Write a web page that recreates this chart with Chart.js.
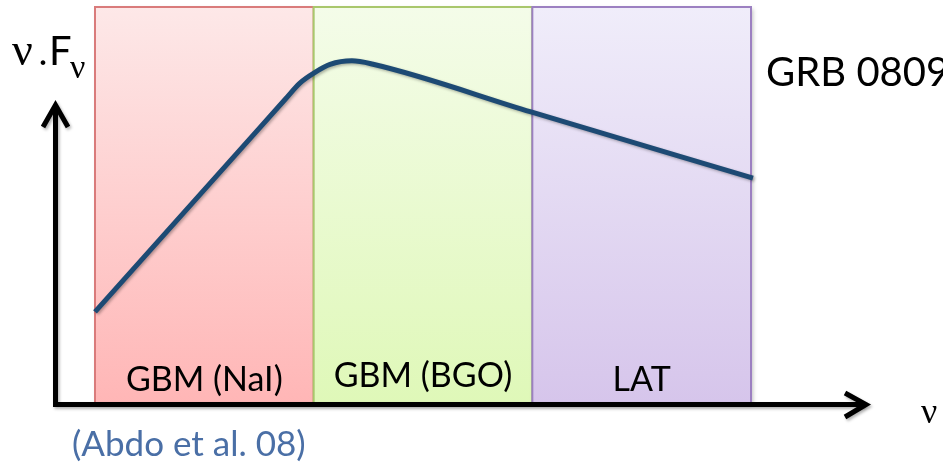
<!DOCTYPE html>
<html>
<head>
<meta charset="utf-8">
<title>GRB 080916C spectrum sketch</title>
<script src="https://cdn.jsdelivr.net/npm/chart.js@4/dist/chart.umd.min.js"></script>
<style>
  html, body { margin: 0; padding: 0; background: #ffffff; }
  #wrap { width: 943px; height: 463px; }
</style>
</head>
<body>
<div id="wrap"><canvas id="spectrum" width="943" height="463"></canvas></div>
<script>
// energy bands of the instruments (x in band units)
const bandNames = ["GBM (NaI)", "GBM (BGO)", "LAT"];
const bandEdges = [0, 1, 2, 3];
const bandTopColors = ["#fde8e8", "#f4fce9", "#f0edfa"];
const bandBottomColors = ["#ffb6b6", "#dff8b8", "#d6c5eb"];
const bandBorders = ["#d97b7b", "#a9c76c", "#9c80c1"];

// schematic nu.F_nu curve (arbitrary units)
const specX = [0, 0.663, 0.87, 0.937, 1.006, 1.075, 1.175, 1.267, 1.994, 3.009];
const specY = [2.30, 6.39, 7.67, 8.08, 8.35, 8.55, 8.64, 8.56, 7.35, 5.68];

const SANS = "Lato, 'Open Sans', sans-serif";
const SERIF = "'Liberation Serif', 'DejaVu Serif', serif";

const bandsPlugin = {
  id: "bands",
  beforeDatasetsDraw(chart) {
    const { ctx, scales: { x, y } } = chart;
    const top = y.getPixelForValue(y.max);
    const bottom = y.getPixelForValue(y.min);
    ctx.save();
    for (let i = 0; i < bandNames.length; i++) {
      const left = x.getPixelForValue(bandEdges[i]);
      const right = x.getPixelForValue(bandEdges[i + 1]);
      const grad = ctx.createLinearGradient(0, top, 0, bottom);
      grad.addColorStop(0, bandTopColors[i]);
      grad.addColorStop(1, bandBottomColors[i]);
      ctx.shadowColor = "rgba(0,0,0,0.25)";
      ctx.shadowBlur = 4;
      ctx.shadowOffsetX = 2;
      ctx.shadowOffsetY = 2;
      ctx.fillStyle = grad;
      ctx.fillRect(left, top, right - left, bottom - top);
      ctx.shadowColor = "transparent";
      ctx.strokeStyle = bandBorders[i];
      ctx.lineWidth = 2;
      ctx.strokeRect(left, top, right - left, bottom - top);
    }
    // instrument labels
    ctx.fillStyle = "#000";
    ctx.font = "34px " + SANS;
    ctx.textAlign = "center";
    ctx.textBaseline = "alphabetic";
    const base = [391, 387, 391];
    for (let i = 0; i < bandNames.length; i++) {
      const cx = (x.getPixelForValue(bandEdges[i]) + x.getPixelForValue(bandEdges[i + 1])) / 2;
      ctx.fillText(bandNames[i], cx, base[i]);
    }
    ctx.restore();
  },
  beforeDatasetDraw(chart) {
    const ctx = chart.ctx;
    ctx.save();
    ctx.shadowColor = "rgba(0,0,0,0.3)";
    ctx.shadowBlur = 3;
    ctx.shadowOffsetX = 1.5;
    ctx.shadowOffsetY = 1.5;
  },
  afterDatasetDraw(chart) {
    chart.ctx.restore();
  },
  afterDraw(chart) {
    const ctx = chart.ctx;
    const area = chart.chartArea;
    const ax = area.left - 39.5;   // vertical axis
    const ay = area.bottom + 1.5;  // horizontal axis
    ctx.save();
    ctx.strokeStyle = "#000";
    ctx.lineWidth = 5;
    ctx.lineJoin = "miter";
    ctx.lineCap = "butt";
    ctx.shadowColor = "rgba(0,0,0,0.3)";
    ctx.shadowBlur = 3;
    ctx.shadowOffsetX = 1.5;
    ctx.shadowOffsetY = 2;

    ctx.beginPath();
    ctx.moveTo(ax, ay + 2.5);
    ctx.lineTo(ax, 106);
    ctx.moveTo(ax - 2.5, ay);
    ctx.lineTo(864, ay);
    ctx.stroke();

    ctx.beginPath();
    ctx.moveTo(ax - 12.5, 127);
    ctx.lineTo(ax, 105);
    ctx.lineTo(ax + 12.5, 127);
    ctx.moveTo(845, ay - 11.5);
    ctx.lineTo(866, ay);
    ctx.lineTo(845, ay + 12.5);
    ctx.stroke();
    ctx.shadowColor = "transparent";

    // axis titles
    ctx.fillStyle = "#000";
    ctx.textAlign = "left";
    ctx.textBaseline = "alphabetic";
    ctx.font = "46px " + SERIF;
    ctx.fillText("\u03BD", 12, 65);
    ctx.font = "40px " + SERIF;
    ctx.fillText(".", 38, 65);
    ctx.font = "40px " + SANS;
    ctx.fillText("F", 49, 65);
    ctx.font = "34px " + SERIF;
    ctx.fillText("\u03BD", 70, 78);
    ctx.font = "36px " + SERIF;
    ctx.fillText("\u03BD", 921, 423);

    ctx.font = "40px " + SANS;
    ctx.fillText("GRB 080916C", 766, 86);

    ctx.fillStyle = "#4a6fa6";
    ctx.font = "35px " + SANS;
    ctx.fillText("(Abdo et al. 08)", 72, 456);
    ctx.restore();
  }
};

new Chart(document.getElementById("spectrum"), {
  type: "line",
  data: {
    datasets: [{
      data: specX.map((v, i) => ({ x: v, y: specY[i] })),
      borderColor: "#1d4a74",
      borderWidth: 5,
      pointRadius: 0,
      cubicInterpolationMode: "monotone",
      borderCapStyle: "butt",
      clip: false,
      fill: false
    }]
  },
  options: {
    responsive: false,
    animation: false,
    devicePixelRatio: 1,
    layout: { padding: { left: 95, right: 192, top: 7, bottom: 60 } },
    scales: {
      x: { type: "linear", min: bandEdges[0], max: bandEdges[bandEdges.length - 1], display: false },
      y: { type: "linear", min: 0, max: 10, display: false }
    },
    plugins: { legend: { display: false }, tooltip: { enabled: false } }
  },
  plugins: [bandsPlugin]
});
</script>
</body>
</html>
